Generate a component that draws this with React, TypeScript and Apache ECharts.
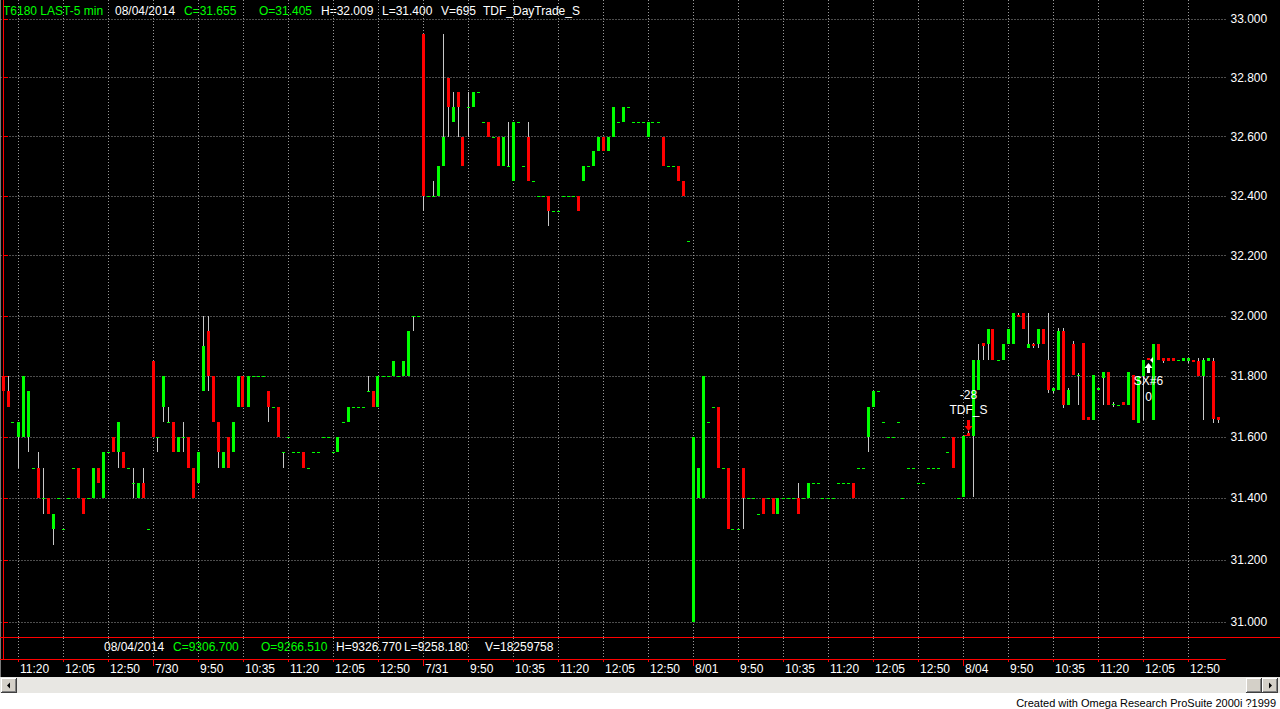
import React, { useEffect, useRef } from 'react';
import * as echarts from 'echarts';

// ---------- categories ----------
const days = ['7/29', '7/30', '7/31', '8/01', '8/04'];
const firstSession = [24, 0, 0, 0, 0]; // first visible 5-min bar of each day (0 = 9:05)
const sessionTimes: string[] = (() => {
  const t: string[] = [];
  for (let k = 1; k <= 54; k++) {
    const m = 9 * 60 + 5 * k;
    t.push(`${Math.floor(m / 60)}:${String(m % 60).padStart(2, '0')}`);
  }
  return t;
})();

// ---------- series values: [open, close, low, high] ----------
const bars0729 = [
  [31.80, 31.75, 31.75, 31.80], [31.75, 31.70, 31.70, 31.80], [31.65, 31.65, 31.65, 31.65], [31.60, 31.65, 31.50, 31.65],
  [31.60, 31.80, 31.60, 31.80], [31.60, 31.75, 31.55, 31.75], [31.50, 31.50, 31.50, 31.50], [31.50, 31.40, 31.40, 31.55],
  [31.40, 31.40, 31.35, 31.50], [31.40, 31.35, 31.35, 31.40], [31.30, 31.35, 31.25, 31.35], [31.40, 31.40, 31.40, 31.40],
  [31.30, 31.30, 31.30, 31.30], [31.40, 31.40, 31.40, 31.40], [31.50, 31.50, 31.50, 31.50], [31.50, 31.40, 31.40, 31.50],
  [31.40, 31.35, 31.35, 31.40], [31.40, 31.40, 31.40, 31.40], [31.40, 31.50, 31.40, 31.50], [31.50, 31.45, 31.45, 31.50],
  [31.40, 31.55, 31.40, 31.55], [31.55, 31.55, 31.55, 31.55], [31.60, 31.55, 31.55, 31.60], [31.55, 31.65, 31.50, 31.65],
  [31.55, 31.50, 31.50, 31.55], [31.50, 31.50, 31.50, 31.50], [31.45, 31.45, 31.40, 31.50], [31.40, 31.45, 31.40, 31.45],
  [31.45, 31.40, 31.40, 31.50], [31.30, 31.30, 31.30, 31.30],
];
const bars0730 = [
  [31.85, 31.60, 31.60, 31.85], [31.60, 31.60, 31.55, 31.60], [31.70, 31.80, 31.65, 31.80], [31.65, 31.65, 31.65, 31.70],
  [31.65, 31.55, 31.55, 31.65], [31.55, 31.60, 31.55, 31.60], [31.60, 31.60, 31.55, 31.65], [31.60, 31.50, 31.50, 31.60],
  [31.50, 31.40, 31.40, 31.50], [31.45, 31.55, 31.45, 31.55], [31.75, 31.90, 31.75, 32.00], [31.95, 31.80, 31.75, 32.00],
  [31.80, 31.65, 31.65, 31.80], [31.65, 31.55, 31.50, 31.65], [31.50, 31.55, 31.50, 31.55], [31.60, 31.50, 31.50, 31.60],
  [31.55, 31.65, 31.55, 31.65], [31.70, 31.80, 31.70, 31.80], [31.80, 31.70, 31.70, 31.80], [31.70, 31.80, 31.70, 31.80],
  [31.80, 31.80, 31.80, 31.80], [31.80, 31.80, 31.80, 31.80], [31.80, 31.80, 31.80, 31.80], [31.75, 31.70, 31.65, 31.75],
  [31.70, 31.70, 31.70, 31.70], [31.70, 31.60, 31.60, 31.70], [31.55, 31.55, 31.50, 31.55], [31.60, 31.60, 31.60, 31.60],
  [31.55, 31.55, 31.55, 31.55], [31.55, 31.55, 31.55, 31.55], [31.55, 31.50, 31.50, 31.55], [31.50, 31.50, 31.50, 31.50],
  [31.55, 31.55, 31.55, 31.55], [31.55, 31.55, 31.55, 31.55], [31.60, 31.60, 31.60, 31.60], [31.60, 31.60, 31.60, 31.60],
  [31.55, 31.55, 31.55, 31.55], [31.55, 31.60, 31.55, 31.60], [31.65, 31.65, 31.65, 31.65], [31.65, 31.70, 31.65, 31.70],
  [31.70, 31.70, 31.70, 31.70], [31.70, 31.70, 31.70, 31.70], [31.70, 31.70, 31.70, 31.70], [31.75, 31.75, 31.75, 31.80],
  [31.75, 31.70, 31.70, 31.75], [31.70, 31.80, 31.70, 31.80], [31.80, 31.80, 31.80, 31.80], [31.80, 31.80, 31.80, 31.80],
  [31.80, 31.85, 31.80, 31.85], [31.80, 31.80, 31.80, 31.80], [31.80, 31.85, 31.80, 31.85], [31.80, 31.95, 31.80, 31.95],
  [32.00, 32.00, 31.95, 32.00], [32.00, 32.00, 32.00, 32.00],
];
const bars0731 = [
  [32.95, 32.40, 32.35, 32.95], [32.40, 32.40, 32.40, 32.40], [32.40, 32.40, 32.40, 32.45], [32.40, 32.50, 32.40, 32.50],
  [32.50, 32.60, 32.50, 32.95], [32.80, 32.70, 32.60, 32.80], [32.65, 32.70, 32.65, 32.75], [32.75, 32.70, 32.60, 32.75],
  [32.60, 32.50, 32.50, 32.60], [32.70, 32.70, 32.60, 32.75], [32.70, 32.75, 32.70, 32.75], [32.75, 32.75, 32.75, 32.75],
  [32.65, 32.65, 32.65, 32.65], [32.65, 32.60, 32.60, 32.65], [32.60, 32.60, 32.60, 32.60], [32.60, 32.50, 32.50, 32.60],
  [32.50, 32.60, 32.50, 32.60], [32.50, 32.50, 32.50, 32.65], [32.45, 32.65, 32.45, 32.65], [32.65, 32.65, 32.65, 32.65],
  [32.50, 32.50, 32.50, 32.50], [32.60, 32.45, 32.45, 32.65], [32.45, 32.45, 32.45, 32.45], [32.40, 32.40, 32.40, 32.40],
  [32.40, 32.40, 32.40, 32.40], [32.40, 32.35, 32.30, 32.40], [32.35, 32.35, 32.35, 32.35], [32.35, 32.35, 32.35, 32.35],
  [32.40, 32.40, 32.40, 32.40], [32.40, 32.40, 32.40, 32.40], [32.40, 32.40, 32.40, 32.40], [32.40, 32.35, 32.35, 32.40],
  [32.45, 32.50, 32.45, 32.50], [32.50, 32.50, 32.50, 32.50], [32.50, 32.55, 32.50, 32.55], [32.55, 32.60, 32.55, 32.60],
  [32.60, 32.55, 32.55, 32.60], [32.55, 32.60, 32.55, 32.60], [32.60, 32.70, 32.60, 32.70], [32.65, 32.65, 32.65, 32.65],
  [32.65, 32.70, 32.65, 32.70], [32.70, 32.70, 32.70, 32.70], [32.65, 32.65, 32.65, 32.65], [32.65, 32.65, 32.65, 32.65],
  [32.65, 32.65, 32.65, 32.65], [32.60, 32.65, 32.60, 32.65], [32.65, 32.65, 32.65, 32.65], [32.65, 32.65, 32.65, 32.65],
  [32.60, 32.50, 32.50, 32.60], [32.50, 32.50, 32.50, 32.50], [32.50, 32.50, 32.50, 32.50], [32.50, 32.45, 32.45, 32.50],
  [32.45, 32.40, 32.40, 32.45], [32.25, 32.25, 32.25, 32.25],
];
const bars0801 = [
  [31.00, 31.60, 31.00, 31.60], [31.40, 31.50, 31.40, 31.50], [31.40, 31.80, 31.40, 31.80], [31.65, 31.65, 31.65, 31.65],
  [31.70, 31.70, 31.70, 31.70], [31.70, 31.50, 31.50, 31.70], [31.50, 31.50, 31.50, 31.50], [31.50, 31.30, 31.30, 31.50],
  [31.30, 31.30, 31.30, 31.30], [31.30, 31.30, 31.30, 31.30], [31.50, 31.40, 31.30, 31.50], [31.40, 31.40, 31.40, 31.40],
  [31.40, 31.40, 31.40, 31.40], [31.35, 31.35, 31.35, 31.35], [31.40, 31.35, 31.35, 31.40], [31.40, 31.40, 31.40, 31.40],
  [31.40, 31.35, 31.35, 31.40], [31.35, 31.40, 31.35, 31.40], [31.40, 31.40, 31.40, 31.40], [31.40, 31.40, 31.40, 31.40],
  [31.40, 31.40, 31.40, 31.40], [31.40, 31.35, 31.35, 31.45], [31.40, 31.40, 31.40, 31.40], [31.40, 31.45, 31.40, 31.45],
  [31.45, 31.45, 31.45, 31.45], [31.45, 31.45, 31.45, 31.45], [31.40, 31.40, 31.40, 31.40], [31.40, 31.40, 31.40, 31.40],
  [31.40, 31.40, 31.40, 31.40], [31.45, 31.45, 31.45, 31.45], [31.45, 31.45, 31.45, 31.45], [31.45, 31.45, 31.45, 31.45],
  [31.45, 31.40, 31.40, 31.45], [31.50, 31.50, 31.50, 31.50], [31.50, 31.50, 31.50, 31.50], [31.60, 31.70, 31.55, 31.70],
  [31.70, 31.75, 31.70, 31.75], [31.75, 31.75, 31.75, 31.75], [31.65, 31.65, 31.65, 31.65], [31.60, 31.60, 31.60, 31.60],
  [31.60, 31.60, 31.60, 31.60], [31.65, 31.65, 31.65, 31.65], [31.40, 31.40, 31.40, 31.40], [31.50, 31.50, 31.50, 31.50],
  [31.50, 31.50, 31.50, 31.50], [31.45, 31.45, 31.45, 31.45], [31.45, 31.45, 31.45, 31.45], [31.50, 31.50, 31.50, 31.50],
  [31.50, 31.50, 31.50, 31.50], [31.50, 31.50, 31.50, 31.50], [31.60, 31.60, 31.60, 31.60], [31.55, 31.55, 31.55, 31.55],
  [31.60, 31.50, 31.50, 31.60], [31.40, 31.40, 31.40, 31.40],
];
const bars0804 = [
  [31.405, 31.605, 31.405, 31.605], [31.615, 31.605, 31.605, 31.62], [31.605, 31.855, 31.405, 31.855], [31.755, 31.855, 31.755, 31.905],
  [31.91, 31.90, 31.855, 31.91], [31.905, 31.955, 31.855, 31.955], [31.955, 31.855, 31.855, 31.955], [31.855, 31.855, 31.855, 31.855],
  [31.855, 31.905, 31.855, 31.905], [31.905, 31.955, 31.905, 31.955], [31.905, 32.009, 31.905, 32.009], [32.004, 31.996, 31.996, 32.009],
  [32.009, 31.955, 31.955, 32.009], [31.895, 31.905, 31.895, 32.009], [31.905, 31.90, 31.895, 31.91], [31.905, 31.955, 31.895, 31.955],
  [31.955, 31.905, 31.905, 31.955], [31.855, 31.755, 31.745, 32.009], [31.75, 31.76, 31.745, 31.76], [31.755, 31.95, 31.755, 31.96],
  [31.95, 31.705, 31.695, 31.96], [31.705, 31.755, 31.705, 31.76], [31.905, 31.805, 31.805, 31.915], [31.805, 31.805, 31.705, 31.81],
  [31.91, 31.655, 31.655, 31.91], [31.665, 31.655, 31.655, 31.665], [31.655, 31.805, 31.655, 31.805], [31.755, 31.76, 31.755, 31.76],
  [31.795, 31.815, 31.705, 31.815], [31.815, 31.705, 31.705, 31.815], [31.705, 31.71, 31.70, 31.715], [31.705, 31.705, 31.705, 31.705],
  [31.715, 31.705, 31.705, 31.715], [31.705, 31.815, 31.705, 31.815], [31.805, 31.655, 31.655, 31.805], [31.645, 31.80, 31.645, 31.80],
  [31.80, 31.855, 31.655, 31.855], [31.86, 31.855, 31.855, 31.86], [31.655, 31.905, 31.655, 31.905], [31.905, 31.855, 31.855, 31.905],
  [31.86, 31.852, 31.845, 31.86], [31.86, 31.852, 31.852, 31.86], [31.86, 31.852, 31.852, 31.86], [31.855, 31.855, 31.855, 31.855],
  [31.852, 31.86, 31.852, 31.86], [31.852, 31.86, 31.845, 31.86], [31.855, 31.848, 31.848, 31.855], [31.85, 31.80, 31.80, 31.86],
  [31.80, 31.855, 31.655, 31.86], [31.852, 31.86, 31.852, 31.86], [31.85, 31.66, 31.645, 31.86], [31.665, 31.655, 31.645, 31.665],
];
const dayBars = [bars0729, bars0730, bars0731, bars0801, bars0804];

// price axis tick labels
const priceTicks = [31.0, 31.2, 31.4, 31.6, 31.8, 32.0, 32.2, 32.4, 32.6, 32.8, 33.0];

// strategy signals
const signalDay = ['8/04', '8/04'];
const signalTime = ['9:10', '12:10'];
const signalPrice = [31.605, 31.855];
const signalText = [['-28', 'TDF_S'], ['SX#6', '0']];
const signalDir = ['down', 'up'];

// header / sub-panel texts
const headerTexts = ['T6180 LAST-5 min', '08/04/2014', 'C=31.655', 'O=31.405', 'H=32.009', 'L=31.400', 'V=695', 'TDF_DayTrade_S'];
const indexTexts = ['08/04/2014', 'C=9306.700', 'O=9266.510', 'H=9326.770', 'L=9258.180', 'V=18259758'];

// ---------- build rows ----------
const rows: number[][] = [];
const barDay: string[] = [];
const barTime: string[] = [];
const barSession: number[] = [];
dayBars.forEach((bars, d) => {
  bars.forEach((b, j) => {
    const s = firstSession[d] + j;
    rows.push([rows.length, b[0], b[1], b[2], b[3]]);
    barDay.push(days[d]);
    barTime.push(sessionTimes[s]);
    barSession.push(s);
  });
});
const N = rows.length;
const tickIdx: number[] = [];
const dayIdx: number[] = [];
barSession.forEach((s, i) => {
  if (s % 9 === 0) tickIdx.push(i);
  if (s === 0) dayIdx.push(i);
});
const tickLabel = (i: number) => (barSession[i] === 0 ? barDay[i] : barTime[i]);

const signalRows = signalDay.map((d, k) => {
  let idx = 0;
  for (let i = 0; i < N; i++) if (barDay[i] === d && barTime[i] === signalTime[k]) idx = i;
  return [idx, signalPrice[k], k];
});

const FONT = '"Liberation Sans", Arial, sans-serif';
const UP = '#00ff00';
const DOWN = '#ff0000';
const WICK = '#c8c8c8';
const GRIDC = '#9a9a9a';
const RED = '#ff0000';

function renderCandle(_p: any, api: any) {
  const i = api.value(0), o = api.value(1), c = api.value(2), l = api.value(3), h = api.value(4);
  const pO = api.coord([i, o]);
  const pC = api.coord([i, c]);
  const pL = api.coord([i, l]);
  const pH = api.coord([i, h]);
  const cx = Math.round(pO[0] - 0.5) + 0.5;
  const children: any[] = [];
  const yH = Math.round(pH[1]);
  const yL = Math.round(pL[1]);
  if (yL - yH >= 1) {
    children.push({ type: 'rect', shape: { x: cx - 0.5, y: yH, width: 1, height: yL - yH }, style: { fill: WICK } });
  }
  const top = Math.round(Math.min(pO[1], pC[1]));
  const bot = Math.round(Math.max(pO[1], pC[1]));
  const color = c < o ? DOWN : UP;
  children.push({ type: 'rect', shape: { x: cx - 1.5, y: top, width: 3, height: Math.max(1, bot - top) }, style: { fill: color } });
  return { type: 'group', children };
}

function renderSignal(_p: any, api: any) {
  const i = api.value(0), price = api.value(1), k = api.value(2);
  const p = api.coord([i, price]);
  const cx = Math.round(p[0] - 0.5) + 0.5;
  const py = Math.round(p[1]);
  const lines = signalText[k];
  const children: any[] = [];
  const txt = (t: string, y: number) => ({
    type: 'text', x: cx, y,
    style: { text: t, fill: '#ffffff', font: `12px ${FONT}`, align: 'center', verticalAlign: 'middle' },
  });
  if (signalDir[k] === 'down') {
    const tip = py - 5;
    children.push({ type: 'rect', shape: { x: cx - 1.5, y: tip - 11, width: 3, height: 6 }, style: { fill: RED } });
    children.push({ type: 'polygon', shape: { points: [[cx - 4, tip - 5], [cx + 4, tip - 5], [cx, tip]] }, style: { fill: RED } });
    children.push({ type: 'rect', shape: { x: cx - 4.5, y: py - 1, width: 4, height: 1 }, style: { fill: RED } });
    children.push(txt(lines[0], tip - 36));
    children.push(txt(lines[1], tip - 21));
  } else {
    const tip = py + 3;
    children.push({ type: 'polygon', shape: { points: [[cx - 4, tip + 5], [cx + 4, tip + 5], [cx, tip]] }, style: { fill: '#ffffff' } });
    children.push({ type: 'rect', shape: { x: cx - 1.5, y: tip + 5, width: 3, height: 5 }, style: { fill: '#ffffff' } });
    children.push({ type: 'polygon', shape: { points: [[cx + 1.5, py], [cx + 4.5, py - 3], [cx + 4.5, py + 3]] }, style: { fill: '#ffffff' } });
    children.push(txt(lines[0], tip + 18));
    children.push(txt(lines[1], tip + 34));
  }
  return { type: 'group', children };
}

const headerX = [3, 115, 184, 259, 321, 382, 441, 483];
const headerColor = [UP, '#fff', UP, UP, '#fff', '#fff', '#fff', '#fff'];
const indexX = [104, 173, 261, 336, 404, 485];
const indexColor = ['#fff', UP, UP, '#fff', '#fff', '#fff'];

function buttonEls(x: number, y: number, w: number, h: number) {
  return [
    { type: 'rect', shape: { x, y, width: w, height: h }, style: { fill: '#404040' } },
    { type: 'rect', shape: { x, y, width: w - 1, height: h - 1 }, style: { fill: '#ffffff' } },
    { type: 'rect', shape: { x: x + 1, y: y + 1, width: w - 2, height: h - 2 }, style: { fill: '#808080' } },
    { type: 'rect', shape: { x: x + 1, y: y + 1, width: w - 3, height: h - 3 }, style: { fill: '#d4d0c8' } },
  ];
}

export default function App() {
  const ref = useRef<HTMLDivElement>(null);
  useEffect(() => {
    document.body.style.margin = '0';
    const chart = echarts.init(ref.current!, null, { renderer: 'svg' });
    const xMin = -0.5;
    const xMax = N + 0.5;
    const graphic: any[] = [];
    headerTexts.forEach((t, k) =>
      graphic.push({ type: 'text', x: headerX[k], y: 11, style: { text: t, fill: headerColor[k], font: `12px ${FONT}`, verticalAlign: 'middle' } })
    );
    indexTexts.forEach((t, k) =>
      graphic.push({ type: 'text', x: indexX[k], y: 647, style: { text: t, fill: indexColor[k], font: `12px ${FONT}`, verticalAlign: 'middle' } })
    );
    graphic.push({ type: 'rect', shape: { x: 0, y: 0, width: 1, height: 677 }, style: { fill: '#7a7a7a' } });
    graphic.push({ type: 'rect', shape: { x: 1225, y: 637, width: 55, height: 1 }, style: { fill: RED } });
    graphic.push({ type: 'rect', shape: { x: 0, y: 677, width: 1280, height: 16 }, style: { fill: '#e8e7e3' } });
    graphic.push(...buttonEls(1, 678, 16, 15));
    graphic.push({ type: 'polygon', shape: { points: [[7, 685.5], [10, 682.5], [10, 688.5]] }, style: { fill: '#000' } });
    graphic.push(...buttonEls(1246, 678, 16, 15));
    graphic.push(...buttonEls(1262, 678, 16, 15));
    graphic.push({ type: 'polygon', shape: { points: [[1272, 685.5], [1269, 682.5], [1269, 688.5]] }, style: { fill: '#000' } });
    graphic.push({ type: 'rect', shape: { x: 0, y: 693, width: 1280, height: 16 }, style: { fill: '#ffffff' } });
    graphic.push({
      type: 'text', x: 1276, y: 703,
      style: { text: 'Created with Omega Research ProSuite 2000i ?1999', fill: '#000', font: `11px ${FONT}`, align: 'right', verticalAlign: 'middle' },
    });

    const dotted = { color: GRIDC, width: 1, type: [1, 2] };
    chart.setOption({
      animation: false,
      backgroundColor: '#000000',
      grid: [
        { left: 0.5, top: 0, width: 1225, height: 637, outerBoundsMode: 'none', containLabel: false },
        { left: 0.5, top: 638, width: 1225, height: 21, outerBoundsMode: 'none', containLabel: false },
        { left: 0.5, top: 638, width: 1225, height: 21, outerBoundsMode: 'none', containLabel: false },
      ],
      xAxis: [
        {
          type: 'value', gridIndex: 0, min: xMin, max: xMax, position: 'bottom',
          axisLine: { show: true, onZero: false, lineStyle: { color: RED, width: 1 } },
          axisTick: { show: false, customValues: tickIdx },
          axisLabel: { show: false, customValues: tickIdx },
          splitLine: { show: true, lineStyle: dotted },
        },
        {
          type: 'value', gridIndex: 1, min: xMin, max: xMax, position: 'bottom',
          axisLine: { show: true, onZero: false, lineStyle: { color: RED, width: 1 } },
          axisTick: { show: true, customValues: tickIdx, length: 3, lineStyle: { color: RED } },
          axisLabel: {
            show: true, customValues: tickIdx, formatter: (v: number) => tickLabel(Math.round(v)),
            color: '#ffffff', fontSize: 12, fontFamily: FONT, align: 'left', padding: [0, 0, 0, 2], margin: 4,
            showMinLabel: true, showMaxLabel: true,
          },
          splitLine: { show: true, lineStyle: dotted },
        },
        {
          type: 'value', gridIndex: 2, min: xMin, max: xMax, position: 'bottom',
          axisLine: { show: false, onZero: false },
          axisTick: { show: true, customValues: dayIdx, length: 7, lineStyle: { color: RED } },
          axisLabel: { show: false, customValues: dayIdx },
          splitLine: { show: false },
        },
      ],
      yAxis: [
        {
          type: 'log', gridIndex: 0, min: 30.952, max: 33.065, position: 'right',
          axisLine: { show: true, lineStyle: { color: RED, width: 1 } },
          axisTick: { show: true, customValues: priceTicks, length: 5, lineStyle: { color: RED } },
          axisLabel: {
            show: true, customValues: priceTicks, formatter: (v: number) => v.toFixed(3),
            color: '#ffffff', fontSize: 12, fontFamily: FONT, margin: 5,
          },
          splitLine: { show: true, lineStyle: dotted },
        },
        {
          type: 'value', gridIndex: 1, min: 0, max: 1, position: 'right',
          axisLine: { show: true, lineStyle: { color: RED, width: 1 } },
          axisTick: { show: false }, axisLabel: { show: false }, splitLine: { show: false },
        },
        { type: 'value', gridIndex: 2, min: 0, max: 1, show: false },
      ],
      series: [
        {
          type: 'custom', name: 'T6180', xAxisIndex: 0, yAxisIndex: 0,
          renderItem: renderCandle, data: rows, encode: { x: 0, y: [1, 2, 3, 4] }, silent: true, z: 5,
        },
        {
          type: 'custom', name: 'signals', xAxisIndex: 0, yAxisIndex: 0,
          renderItem: renderSignal, data: signalRows, encode: { x: 0, y: 1 }, silent: true, z: 6,
        },
      ],
      graphic: { elements: graphic },
    });
    return () => chart.dispose();
  }, []);
  return <div ref={ref} style={{ width: 1280, height: 709, display: 'block' }} />;
}
